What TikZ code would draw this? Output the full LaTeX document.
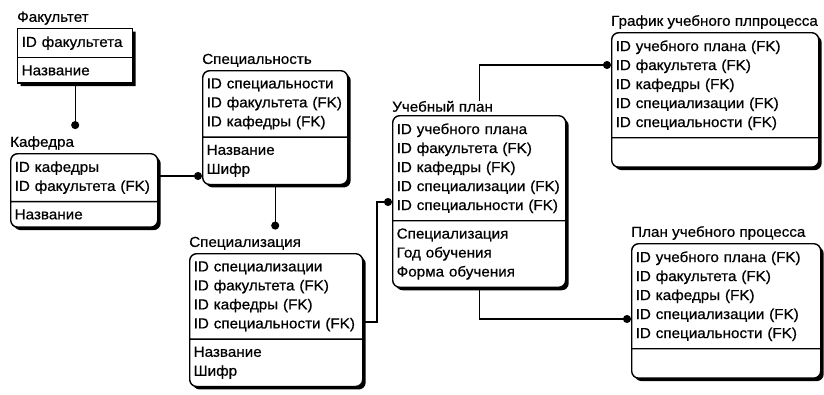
\documentclass[tikz,border=0pt]{standalone}
\usepackage{fontspec}
\setmainfont{Liberation Sans}[FakeStretch=1.05,FakeBold=0.6]
\usetikzlibrary{positioning,shapes.multipart,shadows,arrows.meta}
\begin{document}
\begin{tikzpicture}[x=1pt,y=-1pt,
    every node/.style={font=\fontsize{14.5}{19}\selectfont},
    entity/.style={draw,line width=1.4pt,rectangle split,rectangle split parts=2,
      align=left,text width=#1,inner xsep=4pt,inner ysep=7pt,rounded corners=7pt,
      fill=white,drop shadow={shadow xshift=3pt,shadow yshift=-3pt,opacity=1,fill=black}},
    ename/.style={inner sep=0pt,above right=3pt and 0pt of #1},
    rel/.style={line width=1.2pt,-{Circle[length=8pt]}}]
        \useasboundingbox (0,0) rectangle (824,394);
        \node[entity=107pt,sharp corners,anchor=north west] (fak) at (17,28)
            {ID факультета\nodepart{two}Название};
        \node[entity=139pt,anchor=north west] (kaf) at (10,153)
            {ID кафедры\\ID факультета (FK)\nodepart{two}Название};
        \node[entity=137pt,anchor=north west] (spec) at (202,70)
            {ID специальности\\ID факультета (FK)\\ID кафедры (FK)\nodepart{two}Название\\Шифр};
        \node[entity=165pt,anchor=north west] (szn) at (189,253)
            {ID специализации\\ID факультета (FK)\\ID кафедры (FK)\\ID специальности (FK)\nodepart{two}Название\\Шифр};
        \node[entity=165pt,anchor=north west] (uplan) at (392,115)
            {ID учебного плана\\ID факультета (FK)\\ID кафедры (FK)\\ID специализации (FK)\\ID специальности (FK)\nodepart{two}Специализация\\Год обучения\\Форма обучения};
        \node[entity=199pt,anchor=north west] (graf) at (611,32)
            {ID учебного плана (FK)\\ID факультета (FK)\\ID кафедры (FK)\\ID специализации (FK)\\ID специальности (FK)\nodepart{two}\rule{0pt}{14pt}};
        \node[entity=181pt,anchor=north west] (plan) at (631,243)
            {ID учебного плана (FK)\\ID факультета (FK)\\ID кафедры (FK)\\ID специализации (FK)\\ID специальности (FK)\nodepart{two}\rule{0pt}{14pt}};
        \node[ename=fak.north west] (fakT) {Факультет};
        \node[ename=kaf.north west] (kafT) {Кафедра};
        \node[ename=spec.north west] (specT) {Специальность};
        \node[ename=szn.north west] (sznT) {Специализация};
        \node[ename=uplan.north west] (uplanT) {Учебный план};
        \node[ename=graf.north west] (grafT) {График учебного плпроцесса};
        \node[ename=plan.north west] (planT) {План учебного процесса};
        \coordinate (b1) at (377,202);
        \draw[rel] (fak.south) -- ([yshift=7pt]fak.south |- kafT.north);
        \draw[rel] (kaf.east |- 0,176) -- (spec.west |- 0,176);
        \draw[rel] (spec.south) -- ([yshift=7pt]spec.south |- sznT.north);
        \draw[rel] (szn.east |- 0,322) -| (b1) -- (b1 -| uplan.west);
        \draw[rel] (uplanT.north -| uplan.north) |- (graf.west |- 0,65);
        \draw[rel] (uplan.south) |- (plan.west |- 0,319);
    \end{tikzpicture}
\end{document}
